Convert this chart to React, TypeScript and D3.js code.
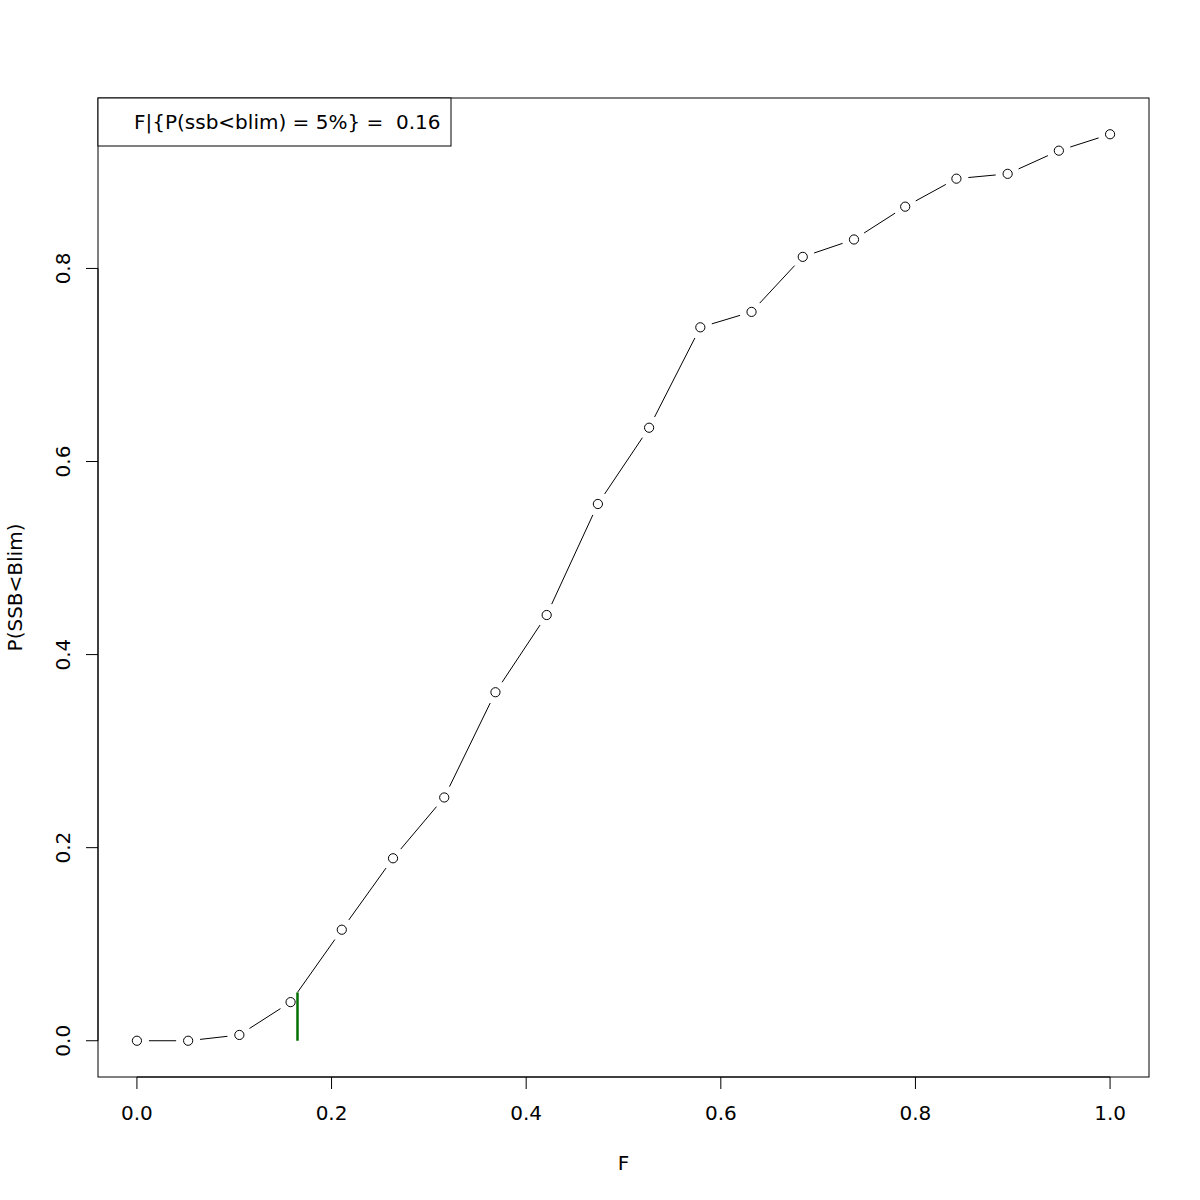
import React from "react";
import * as d3 from "d3";

// F values and probability of SSB below Blim
const fValues = d3.range(20).map((i) => i / 19);
const pValues = [
  0.0, 0.0, 0.006, 0.04, 0.115, 0.189, 0.252, 0.361, 0.441, 0.556,
  0.635, 0.739, 0.755, 0.812, 0.83, 0.864, 0.893, 0.898, 0.922, 0.939,
];
const xTicks = [0, 0.2, 0.4, 0.6, 0.8, 1.0];
const yTicks = [0, 0.2, 0.4, 0.6, 0.8];
const fLim = 0.165;
const pLim = 0.05;
const legendText = "F|{P(ssb<blim) = 5%} =  0.16";

const width = 1200;
const height = 1200;
const margin = { top: 98, right: 51, bottom: 123, left: 98 };
const font = "DejaVu Sans, sans-serif";

const App: React.FC = () => {
  const xDom = [0, 1];
  const yDom = [0, d3.max(pValues) ?? 1];
  const xPad = (xDom[1] - xDom[0]) * 0.04;
  const yPad = (yDom[1] - yDom[0]) * 0.04;

  const x = d3
    .scaleLinear()
    .domain([xDom[0] - xPad, xDom[1] + xPad])
    .range([margin.left, width - margin.right]);
  const y = d3
    .scaleLinear()
    .domain([yDom[0] - yPad, yDom[1] + yPad])
    .range([height - margin.bottom, margin.top]);

  const pts = fValues.map((f, i) => [x(f), y(pValues[i])]);
  const gap = 12;

  // segments with gaps around points (like R type="b")
  const segs = pts.slice(1).map((p, i) => {
    const q = pts[i];
    const dx = p[0] - q[0];
    const dy = p[1] - q[1];
    const len = Math.hypot(dx, dy);
    if (len <= 2 * gap) return null;
    const ux = dx / len;
    const uy = dy / len;
    return (
      <line
        key={i}
        x1={q[0] + ux * gap}
        y1={q[1] + uy * gap}
        x2={p[0] - ux * gap}
        y2={p[1] - uy * gap}
        stroke="#000"
        strokeWidth={1}
      />
    );
  });

  const bottom = height - margin.bottom;
  const tick = 12;

  return (
    <svg
      width={width}
      height={height}
      style={{ position: "absolute", left: 0, top: 0, background: "#fff" }}
      fontFamily={font}
    >
      <rect x={0} y={0} width={width} height={height} fill="#fff" />
      <rect
        x={margin.left}
        y={margin.top}
        width={width - margin.left - margin.right}
        height={height - margin.top - margin.bottom}
        fill="none"
        stroke="#000"
        strokeWidth={1}
      />

      {/* x axis */}
      <line x1={x(0)} x2={x(1)} y1={bottom} y2={bottom} stroke="#000" />
      {xTicks.map((t) => (
        <g key={t}>
          <line x1={x(t)} x2={x(t)} y1={bottom} y2={bottom + tick} stroke="#000" />
          <text x={x(t)} y={bottom + 43} textAnchor="middle" fontSize={20}>
            {t.toFixed(1)}
          </text>
        </g>
      ))}

      {/* y axis */}
      <line x1={margin.left} x2={margin.left} y1={y(0)} y2={y(0.8)} stroke="#000" />
      {yTicks.map((t) => (
        <g key={t}>
          <line
            x1={margin.left - tick}
            x2={margin.left}
            y1={y(t)}
            y2={y(t)}
            stroke="#000"
          />
          <text
            transform={`translate(${margin.left - 28},${y(t)}) rotate(-90)`}
            textAnchor="middle"
            fontSize={20}
          >
            {t.toFixed(1)}
          </text>
        </g>
      ))}

      <text x={x(0.5)} y={1170} textAnchor="middle" fontSize={20}>
        F
      </text>
      <text
        transform={`translate(22,${(margin.top + bottom) / 2}) rotate(-90)`}
        textAnchor="middle"
        fontSize={20}
      >
        P(SSB&lt;Blim)
      </text>

      {segs}
      {pts.map((p, i) => (
        <circle key={i} cx={p[0]} cy={p[1]} r={4.6} fill="none" stroke="#000" strokeWidth={1} />
      ))}

      <line
        x1={x(fLim)}
        x2={x(fLim)}
        y1={y(0)}
        y2={y(pLim)}
        stroke="#007000"
        strokeWidth={2.5}
      />

      {/* legend */}
      <rect x={margin.left} y={margin.top} width={353} height={48} fill="#fff" stroke="#000" />
      <text
        x={margin.left + 36}
        y={margin.top + 31}
        fontSize={20}
        style={{ whiteSpace: "pre" }}
      >
        {legendText}
      </text>
    </svg>
  );
};

export default App;
